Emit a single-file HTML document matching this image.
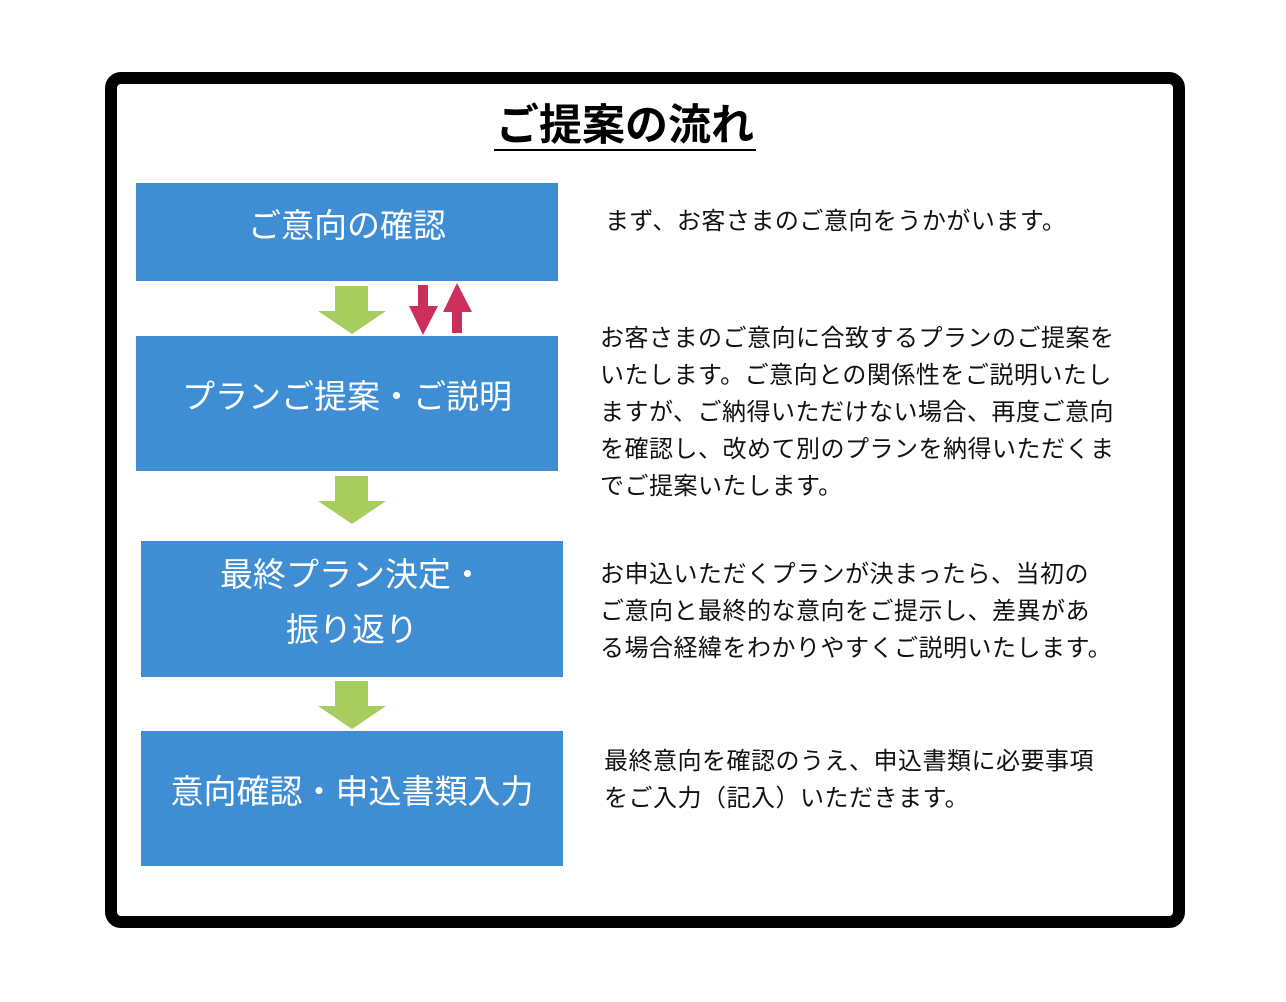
<!DOCTYPE html>
<html><head><meta charset="utf-8"><style>
body{margin:0;width:1286px;height:1002px;background:#fff;position:relative;font-family:"Liberation Sans","Noto Sans CJK JP",sans-serif;overflow:hidden}
.frame{position:absolute;left:105px;top:72px;width:1056px;height:832px;border:12px solid #000;border-radius:16px}
.box{position:absolute;background:#3f8ed4;color:#fff;font-size:33px;display:flex;align-items:center;justify-content:center;text-align:center;line-height:55px;box-sizing:border-box;padding-bottom:14px}
.t{position:absolute;font-size:24px;letter-spacing:0.5px;line-height:37px;white-space:nowrap;color:#111}
.title{position:absolute;left:0;width:1250px;top:102px;text-align:center;font-size:43px;font-weight:bold;}
.title span{border-bottom:2px solid #000;padding:0 2px;line-height:46px;display:inline-block}
</style></head><body>
<div class="frame"></div>
<div class="title"><span>ご提案の流れ</span></div>
<div class="box" style="left:136px;top:183px;width:422px;height:98px">ご意向の確認</div>
<div class="box" style="left:136px;top:336px;width:422px;height:135px">プランご提案・ご説明</div>
<div class="box" style="left:141px;top:541px;width:422px;height:136px">最終プラン決定・<br>振り返り</div>
<div class="box" style="left:141px;top:731px;width:422px;height:135px">意向確認・申込書類入力</div>
<svg style="position:absolute;left:0;top:0" width="1286" height="1002">
<g fill="#a8cd5e">
<polygon points="335,286 368,286 368,311 386,311 352,334 318,311 335,311"/>
<polygon points="335,476 368,476 368,501 386,501 352,524 318,501 335,501"/>
<polygon points="335,681 368,681 368,706 386,706 352,729 318,706 335,706"/>
</g>
<g fill="#cc2f5c">
<polygon points="418,285 428,285 428,306 438,306 423,335 409,306 418,306"/>
<polygon points="457,283 472,312 462,312 462,333 452,333 452,312 443,312"/>
</g>
</svg>
<div class="t" style="left:605px;top:203px">まず、お客さまのご意向をうかがいます。</div>
<div class="t" style="left:600px;top:320px">お客さまのご意向に合致するプランのご提案を<br>いたします。ご意向との関係性をご説明いたし<br>ますが、ご納得いただけない場合、再度ご意向<br>を確認し、改めて別のプランを納得いただくま<br>でご提案いたします。</div>
<div class="t" style="left:600px;top:556px">お申込いただくプランが決まったら、当初の<br>ご意向と最終的な意向をご提示し、差異があ<br>る場合経緯をわかりやすくご説明いたします。</div>
<div class="t" style="left:604px;top:743px">最終意向を確認のうえ、申込書類に必要事項<br>をご入力（記入）いただきます。</div>
</body></html>
